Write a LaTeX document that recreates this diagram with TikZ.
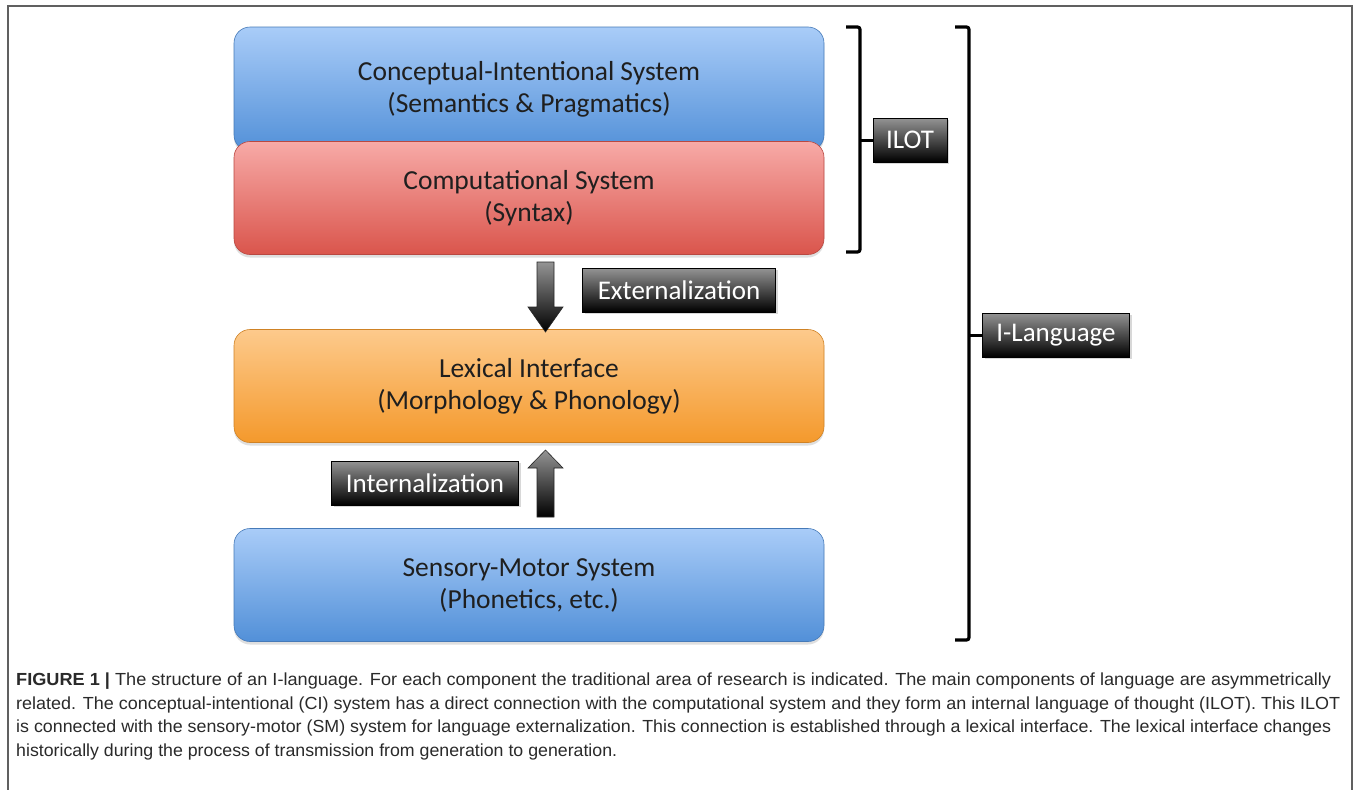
\documentclass[tikz,border=0pt]{standalone}
\usepackage{fontspec}
\setmainfont{Carlito}
\newfontfamily\capfont{Liberation Sans}
\usetikzlibrary{shadows}
\definecolor{blueT}{HTML}{A9CCF8}
\definecolor{blueB}{HTML}{5290D8}
\definecolor{redT}{HTML}{F7AAA7}
\definecolor{redB}{HTML}{DA554C}
\definecolor{oraT}{HTML}{FDCA8C}
\definecolor{oraB}{HTML}{F4992C}
\definecolor{frameC}{HTML}{606060}
\definecolor{capC}{HTML}{2A2A2A}
\begin{document}
\begin{tikzpicture}[x=1pt,y=-1pt,
  sysbox/.style={rounded corners=16pt, minimum width=590pt, align=center,
    font=\fontsize{27.5}{32}\selectfont, text=black!88, line width=0.6pt,
    drop shadow={opacity=0.25,shadow xshift=0pt,shadow yshift=-3pt}},
  tagbox/.style={top color=black!42, bottom color=black, draw=black, line width=0.8pt,
    text=white, font=\fontsize{27}{30}\selectfont, minimum height=44pt, inner sep=0pt,
    drop shadow={opacity=0.3,shadow xshift=2pt,shadow yshift=-2pt}},
  blockarrow/.style={top color=black!42, bottom color=black, draw=black!85, line width=0.6pt},
  brk/.style={line width=3.2pt, rounded corners=2.5pt, line cap=butt},
  capline/.style={anchor=base west, inner sep=0pt, text=capC, font=\capfont\fontsize{17.5}{20}\selectfont}
]
\useasboundingbox (0,0) rectangle (1358,790);
\fill[white] (0,0) rectangle (1358,790);
\draw[frameC, line width=1.6pt] (8,795) -- (8,6) -- (1352,6) -- (1352,795);

% system boxes
\node[sysbox, top color=blueT, bottom color=blueB, draw=blueB!85!black, minimum height=124pt] (ci) at (529,89)
  {Conceptual-Intentional System\\(Semantics \& Pragmatics)};
\node[sysbox, top color=redT, bottom color=redB, draw=redB!85!black, minimum height=113pt] (comp) at (529,198)
  {Computational System\\(Syntax)};
\node[sysbox, top color=oraT, bottom color=oraB, draw=oraB!85!black, minimum height=113pt] (lex) at (529,386)
  {Lexical Interface\\(Morphology \& Phonology)};
\node[sysbox, top color=blueT, bottom color=blueB, draw=blueB!85!black, minimum height=113pt] (sm) at (529,585)
  {Sensory-Motor System\\(Phonetics, etc.)};

% block arrows
\shade[blockarrow] (537,262) -- (554,262) -- (554,307) -- (563,307) -- (545.5,332) -- (528,307) -- (537,307) -- cycle;
\shade[blockarrow] (537,517) -- (554,517) -- (554,468) -- (563,468) -- (545.5,450) -- (528,468) -- (537,468) -- cycle;

% tags
\node[tagbox, minimum width=193pt] (ext) at (679,290) {Externalization};
\node[tagbox, minimum width=187pt] (int) at (425,483) {Internalization};
\node[tagbox, minimum width=74pt] (ilot) at (910,140) {ILOT};
\node[tagbox, minimum width=147pt] (ilang) at (1056,335) {I-Language};

% brackets
\draw[brk] (846,27) -- (860,27) -- (860,252) -- (846,252);
\draw[line width=3pt] (860,140) -- (ilot.west);
\draw[brk] (955,27) -- (969,27) -- (969,640) -- (955,640);
\draw[line width=3pt] (969,335) -- (ilang.west);

% caption
\node[capline] (c1) at (16,685) {\resizebox{1315pt}{\height}{\textbf{FIGURE 1 |} The structure of an I-language. For each component the traditional area of research is indicated. The main components of language are asymmetrically}};
\node[capline] (c2) at (16,709) {\resizebox{1324pt}{\height}{related. The conceptual-intentional (CI) system has a direct connection with the computational system and they form an internal language of thought (ILOT). This ILOT}};
\node[capline] (c3) at (16,732) {\resizebox{1315pt}{\height}{is connected with the sensory-motor (SM) system for language externalization. This connection is established through a lexical interface. The lexical interface changes}};
\node[capline] (c4) at (16,756) {\resizebox{601pt}{\height}{historically during the process of transmission from generation to generation.}};
\end{tikzpicture}
\end{document}
